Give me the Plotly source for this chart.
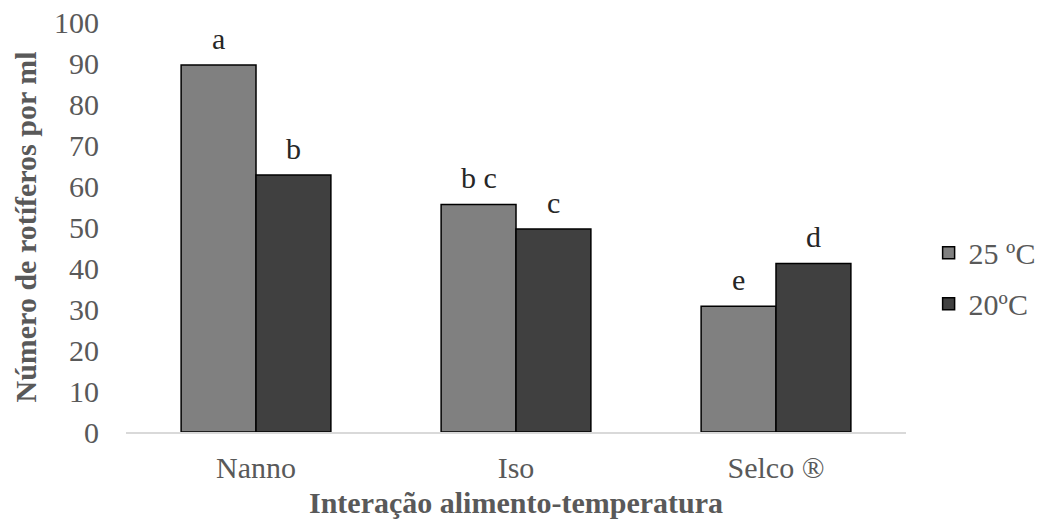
import plotly.graph_objects as go

categories = ["Nanno", "Iso", "Selco ®"]
series_names = ["25 ºC", "20ºC"]
values_25 = [89.5, 55.5, 30.7]
values_20 = [62.7, 49.5, 41.1]
letters_25 = ["a", "b c", "e"]
letters_20 = ["b", "c", "d"]
y_ticks = list(range(0, 101, 10))

colors = ["#808080", "#404040"]
font_fam = "Liberation Serif, Times New Roman, serif"
txt_col = "#595959"

bar_w = 0.288
offsets = [-bar_w / 2, bar_w / 2]
xs = list(range(len(categories)))

fig = go.Figure()
annotations = []
for k, (name, vals, letters) in enumerate(
    [(series_names[0], values_25, letters_25), (series_names[1], values_20, letters_20)]
):
    xpos = [x + offsets[k] for x in xs]
    fig.add_trace(
        go.Bar(
            x=xpos,
            y=vals,
            width=bar_w,
            name=name,
            legendgroup=name,
            hoverinfo="skip",
            marker=dict(color=colors[k], line=dict(color="#000000", width=1.5)),
        )
    )
    for xp, v, lab in zip(xpos, vals, letters):
        annotations.append(
            dict(
                x=xp, y=v, xref="x", yref="y", text=lab, showarrow=False,
                yanchor="bottom", yshift=8,
                font=dict(family=font_fam, size=30, color="#262626"),
            )
        )

fig.update_layout(
    width=1042,
    height=529,
    margin=dict(l=126, r=136, t=22, b=97, autoexpand=False),
    plot_bgcolor="white",
    paper_bgcolor="white",
    font=dict(family=font_fam, size=30, color=txt_col),
    annotations=annotations,
    showlegend=True,
    legend=dict(
        x=1.029, y=0.375, xanchor="left", yanchor="middle",
        font=dict(family=font_fam, size=30, color=txt_col),
        tracegroupgap=9, itemwidth=30, traceorder="grouped",
    ),
    xaxis=dict(
        range=[-0.5, 2.5],
        tickvals=xs,
        ticktext=categories,
        showline=True, linecolor="#d9d9d9", linewidth=1.5,
        showgrid=False, zeroline=False, ticks="",
        ticklabelstandoff=8, automargin=False,
        tickfont=dict(family=font_fam, size=30, color=txt_col),
        title=dict(text="<b>Interação alimento-temperatura</b>", standoff=9,
                   font=dict(family=font_fam, size=30, color=txt_col)),
    ),
    yaxis=dict(
        range=[0, 100],
        tickvals=y_ticks,
        showgrid=False, zeroline=False, showline=False, ticks="",
        ticklabelstandoff=26, automargin=False, ticklabeloverflow="allow",
        tickfont=dict(family=font_fam, size=30, color=txt_col),
        title=dict(text="<b>Número de rotíferos por ml</b>", standoff=8,
                   font=dict(family=font_fam, size=30, color=txt_col)),
    ),
)

fig.write_html(
    "out.html",
    config={"displayModeBar": False},
    post_script="document.body.style.margin='0';document.body.style.overflow='hidden';",
)
